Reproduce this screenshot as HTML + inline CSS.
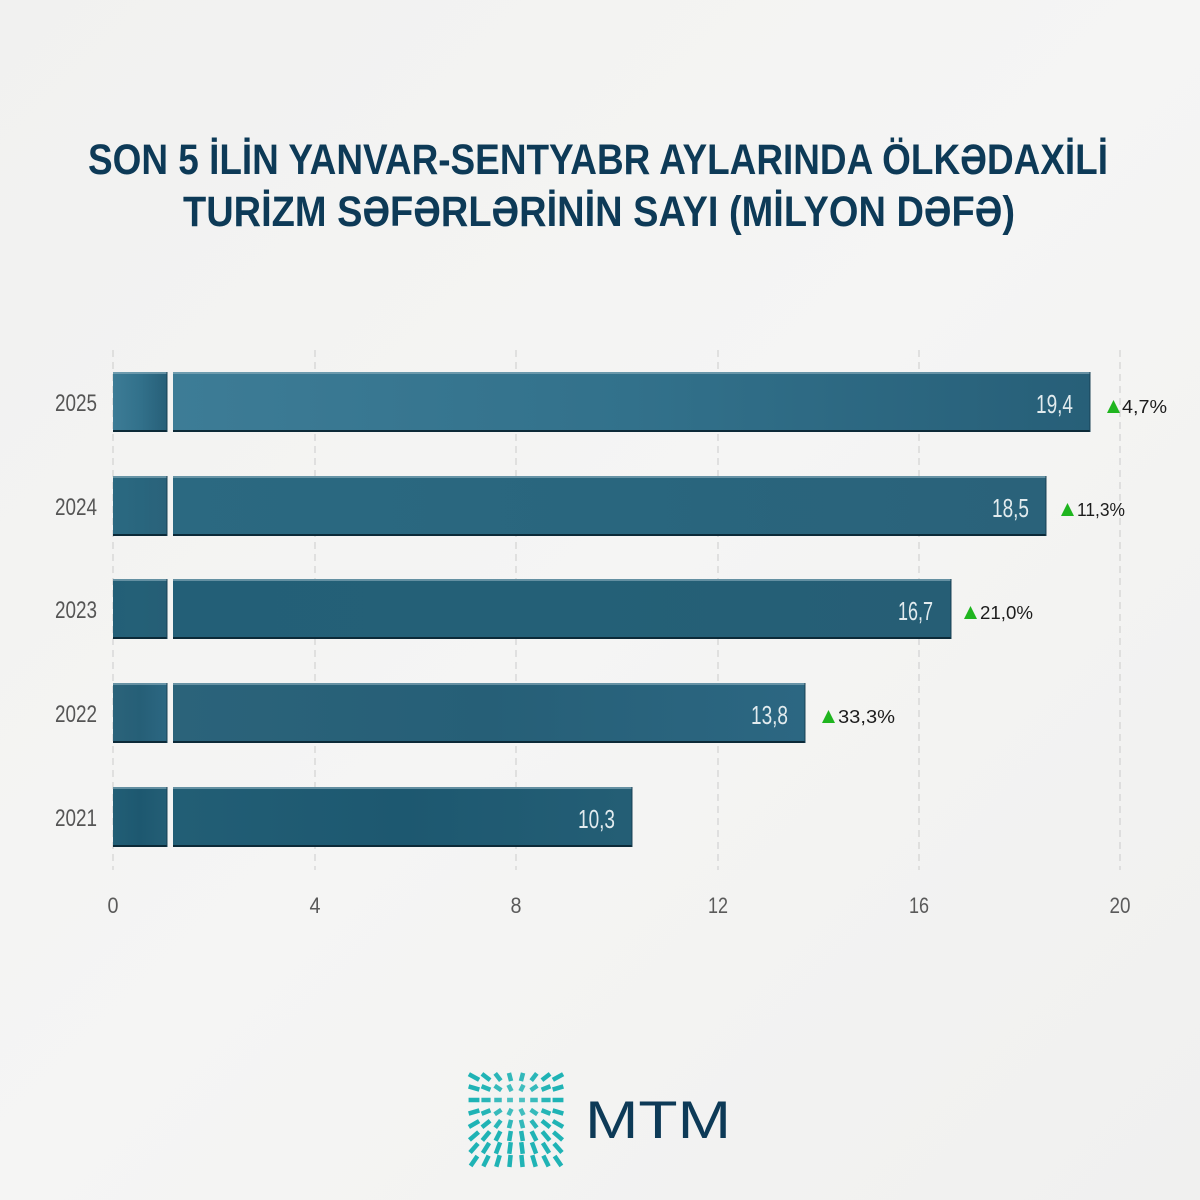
<!DOCTYPE html>
<html>
<head>
<meta charset="utf-8">
<style>
html,body{margin:0;padding:0;}
body{width:1200px;height:1200px;background:#f2f2f1;overflow:hidden;}
svg{display:block;}
</style>
</head>
<body>
<svg id="s" width="1200" height="1200" viewBox="0 0 1200 1200" xmlns="http://www.w3.org/2000/svg">
<defs>
  <linearGradient id="bg" x1="0" y1="0" x2="1" y2="1">
    <stop offset="0" stop-color="#f1f1f0"/>
    <stop offset="0.5" stop-color="#f5f5f4"/>
    <stop offset="1" stop-color="#f0f0ef"/>
  </linearGradient>
  <linearGradient id="b5" x1="0" y1="0" x2="1" y2="0">
    <stop offset="0" stop-color="#3d7c96"/>
    <stop offset="0.5" stop-color="#32718b"/>
    <stop offset="1" stop-color="#275f78"/>
  </linearGradient>
  <linearGradient id="b4" x1="0" y1="0" x2="1" y2="0">
    <stop offset="0" stop-color="#2b6981"/>
    <stop offset="0.5" stop-color="#29667e"/>
    <stop offset="1" stop-color="#2a627a"/>
  </linearGradient>
  <linearGradient id="b3" x1="0" y1="0" x2="1" y2="0">
    <stop offset="0" stop-color="#235f77"/>
    <stop offset="0.5" stop-color="#246077"/>
    <stop offset="1" stop-color="#265e75"/>
  </linearGradient>
  <linearGradient id="b2" x1="0" y1="0" x2="1" y2="0">
    <stop offset="0" stop-color="#2b637a"/>
    <stop offset="0.5" stop-color="#265f77"/>
    <stop offset="1" stop-color="#2c6782"/>
  </linearGradient>
  <linearGradient id="b1" x1="0" y1="0" x2="1" y2="0">
    <stop offset="0" stop-color="#225e75"/>
    <stop offset="0.5" stop-color="#1d5870"/>
    <stop offset="1" stop-color="#245e75"/>
  </linearGradient>
</defs>

<rect x="0" y="0" width="1200" height="1200" fill="url(#bg)"/>

<!-- Title -->
<g font-family="'Liberation Sans', 'DejaVu Sans', sans-serif" font-weight="bold" font-size="43" fill="#0d3a57">
  <text x="88" y="174" textLength="1020" lengthAdjust="spacingAndGlyphs">SON 5 İLİN YANVAR-SENTYABR AYLARINDA ÖLKƏDAXİLİ</text>
  <text x="183" y="226" textLength="832" lengthAdjust="spacingAndGlyphs">TURİZM SƏFƏRLƏRİNİN SAYI (MİLYON DƏFƏ)</text>
</g>

<!-- Grid -->
<g stroke="#d2d2d2" stroke-width="1.2" stroke-dasharray="7,5">
  <line x1="113" y1="350" x2="113" y2="870"/>
  <line x1="315" y1="350" x2="315" y2="870"/>
  <line x1="516" y1="350" x2="516" y2="870"/>
  <line x1="718" y1="350" x2="718" y2="870"/>
  <line x1="919" y1="350" x2="919" y2="870"/>
  <line x1="1120" y1="350" x2="1120" y2="870"/>
</g>

<!-- Bars -->
<g id="bars">
  <rect x="113" y="372" width="54" height="60" fill="url(#b5)"/>
  <rect x="173" y="372" width="917" height="60" fill="url(#b5)"/>
  <rect x="113" y="476" width="54" height="60" fill="url(#b4)"/>
  <rect x="173" y="476" width="873" height="60" fill="url(#b4)"/>
  <rect x="113" y="579" width="54" height="60" fill="url(#b3)"/>
  <rect x="173" y="579" width="778" height="60" fill="url(#b3)"/>
  <rect x="113" y="683" width="54" height="60" fill="url(#b2)"/>
  <rect x="173" y="683" width="632" height="60" fill="url(#b2)"/>
  <rect x="113" y="787" width="54" height="60" fill="url(#b1)"/>
  <rect x="173" y="787" width="459" height="60" fill="url(#b1)"/>
</g>
<g>
  <g stroke="#8fb1c0" stroke-width="1.5" opacity="0.8">
    <line x1="113" y1="373" x2="167" y2="373"/><line x1="173" y1="373" x2="1090" y2="373"/>
    <line x1="113" y1="477" x2="167" y2="477"/><line x1="173" y1="477" x2="1046" y2="477"/>
    <line x1="113" y1="580" x2="167" y2="580"/><line x1="173" y1="580" x2="951" y2="580"/>
    <line x1="113" y1="684" x2="167" y2="684"/><line x1="173" y1="684" x2="805" y2="684"/>
    <line x1="113" y1="788" x2="167" y2="788"/><line x1="173" y1="788" x2="632" y2="788"/>
  </g>
  <g stroke="#0c2a38" stroke-width="2">
    <line x1="113" y1="431" x2="167" y2="431"/><line x1="173" y1="431" x2="1090" y2="431"/>
    <line x1="113" y1="535" x2="167" y2="535"/><line x1="173" y1="535" x2="1046" y2="535"/>
    <line x1="113" y1="638" x2="167" y2="638"/><line x1="173" y1="638" x2="951" y2="638"/>
    <line x1="113" y1="742" x2="167" y2="742"/><line x1="173" y1="742" x2="805" y2="742"/>
    <line x1="113" y1="846" x2="167" y2="846"/><line x1="173" y1="846" x2="632" y2="846"/>
  </g>
  <g stroke="#163f52" stroke-width="1.2" opacity="0.8">
    <line x1="167" y1="372" x2="167" y2="432"/><line x1="1090" y1="372" x2="1090" y2="432"/>
    <line x1="167" y1="476" x2="167" y2="536"/><line x1="1046" y1="476" x2="1046" y2="536"/>
    <line x1="167" y1="579" x2="167" y2="639"/><line x1="951" y1="579" x2="951" y2="639"/>
    <line x1="167" y1="683" x2="167" y2="743"/><line x1="805" y1="683" x2="805" y2="743"/>
    <line x1="167" y1="787" x2="167" y2="847"/><line x1="632" y1="787" x2="632" y2="847"/>
  </g>
</g>

<!-- Year labels -->
<g font-family="'Liberation Sans Narrow','Liberation Sans', sans-serif" font-size="24" fill="#555555" text-anchor="end">
  <text x="97" y="411" textLength="42" lengthAdjust="spacingAndGlyphs">2025</text>
  <text x="97" y="515" textLength="42" lengthAdjust="spacingAndGlyphs">2024</text>
  <text x="97" y="618" textLength="42" lengthAdjust="spacingAndGlyphs">2023</text>
  <text x="97" y="722" textLength="42" lengthAdjust="spacingAndGlyphs">2022</text>
  <text x="97" y="826" textLength="42" lengthAdjust="spacingAndGlyphs">2021</text>
</g>

<!-- Value labels -->
<g font-family="'Liberation Sans Narrow','Liberation Sans', sans-serif" font-size="26" fill="#e2ebee" text-anchor="end">
  <text x="1073" y="413" textLength="37" lengthAdjust="spacingAndGlyphs">19,4</text>
  <text x="1029" y="517" textLength="37" lengthAdjust="spacingAndGlyphs">18,5</text>
  <text x="933" y="620" textLength="35" lengthAdjust="spacingAndGlyphs">16,7</text>
  <text x="788" y="724" textLength="37" lengthAdjust="spacingAndGlyphs">13,8</text>
  <text x="615" y="828" textLength="37" lengthAdjust="spacingAndGlyphs">10,3</text>
</g>

<!-- Percent labels -->
<g fill="#1fb51f">
  <polygon points="1107,413 1120,413 1113.5,400"/>
  <polygon points="1061,516 1074,516 1067.5,503"/>
  <polygon points="964,619 977,619 970.5,606"/>
  <polygon points="822,723 835,723 828.5,710"/>
</g>
<g font-family="'Liberation Sans', sans-serif" font-size="18" fill="#1c1c1c">
  <text x="1122" y="413" textLength="45" lengthAdjust="spacingAndGlyphs">4,7%</text>
  <text x="1077" y="516" textLength="48" lengthAdjust="spacingAndGlyphs">11,3%</text>
  <text x="980" y="619" textLength="53" lengthAdjust="spacingAndGlyphs">21,0%</text>
  <text x="838" y="723" textLength="57" lengthAdjust="spacingAndGlyphs">33,3%</text>
</g>

<!-- X axis tick labels -->
<g font-family="'Liberation Sans Narrow','Liberation Sans', sans-serif" font-size="22" fill="#5a5a5a" text-anchor="middle">
  <text x="113" y="913" textLength="11" lengthAdjust="spacingAndGlyphs">0</text>
  <text x="315" y="913" textLength="11" lengthAdjust="spacingAndGlyphs">4</text>
  <text x="516" y="913" textLength="11" lengthAdjust="spacingAndGlyphs">8</text>
  <text x="718" y="913" textLength="20" lengthAdjust="spacingAndGlyphs">12</text>
  <text x="919" y="913" textLength="20" lengthAdjust="spacingAndGlyphs">16</text>
  <text x="1120" y="913" textLength="21" lengthAdjust="spacingAndGlyphs">20</text>
</g>

<!-- Logo -->
<g id="logo"></g>
<text x="585" y="1138" font-family="'Liberation Sans', sans-serif" font-size="53" fill="#0d3a57" textLength="146" lengthAdjust="spacingAndGlyphs">MTM</text>
</svg>
<script>
(function(){
  var ns="http://www.w3.org/2000/svg";
  var g=document.getElementById("logo");
  var xs=[474,486,498,510,522,534,546,558];
  var ys=[1077,1088,1100,1112,1124,1136,1148,1161];
  var fx=516, fy=1100;
  for(var i=0;i<8;i++){
    for(var j=0;j<8;j++){
      var x=xs[i], y=ys[j];
      var dx=x-fx, dy=y-fy;
      var d=Math.sqrt(dx*dx+dy*dy);
      var ux, uy;
      if(d<0.5){ux=1;uy=0;} else {ux=dx/d;uy=dy/d;}
      var L=Math.min(12, 5+d*0.14);
      var x1=x-ux*L/2, y1=y-uy*L/2, x2=x+ux*L/2, y2=y+uy*L/2;
      var ln=document.createElementNS(ns,"line");
      ln.setAttribute("x1",x1.toFixed(2));
      ln.setAttribute("y1",y1.toFixed(2));
      ln.setAttribute("x2",x2.toFixed(2));
      ln.setAttribute("y2",y2.toFixed(2));
      ln.setAttribute("stroke","#1fb3b5");
      ln.setAttribute("stroke-width","4.5");
      ln.setAttribute("opacity",(0.75+Math.min(0.25,d/150)).toFixed(2));
      g.appendChild(ln);
    }
  }
})();
</script>
</body>
</html>
